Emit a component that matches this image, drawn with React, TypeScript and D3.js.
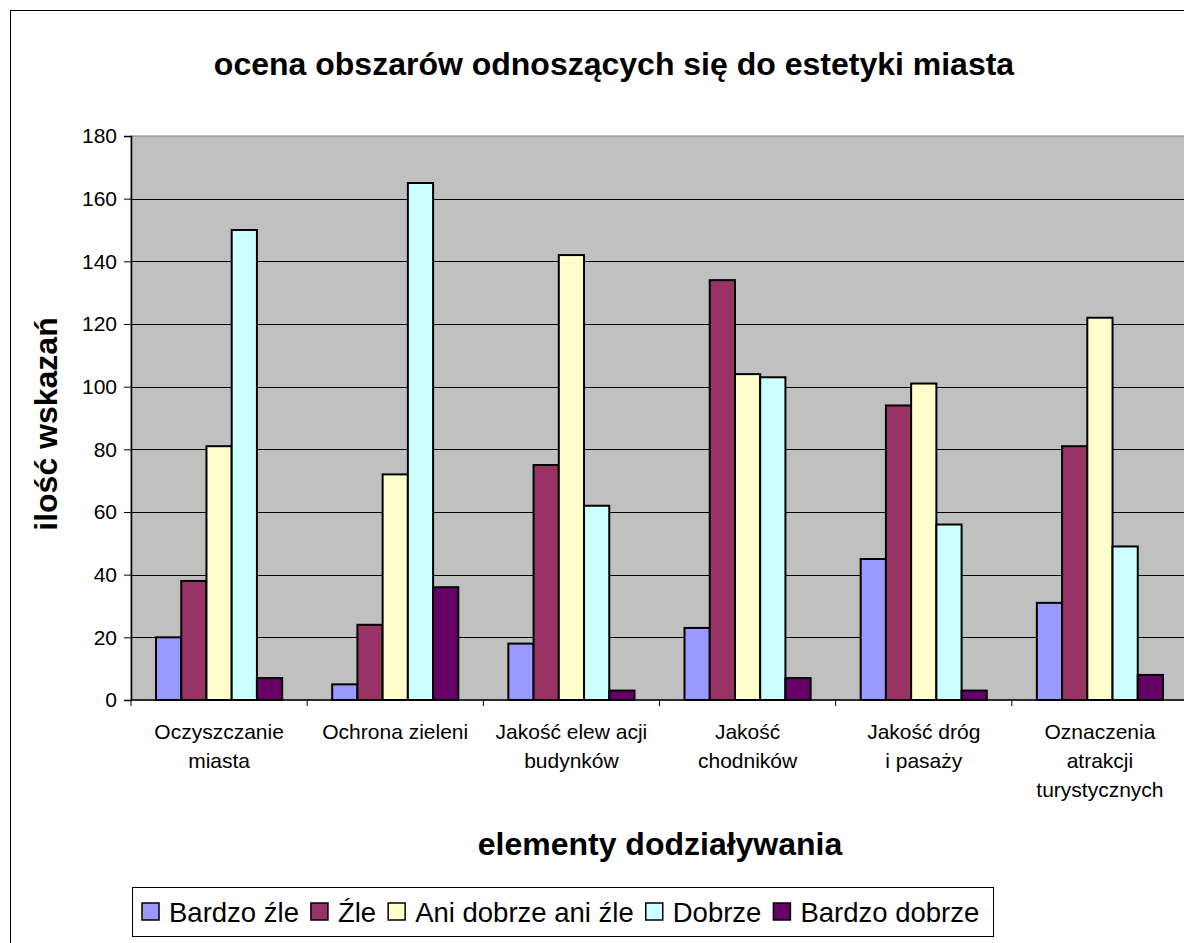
import React, { useEffect, useRef } from 'react';
import * as d3 from 'd3';

const categories = [
  ['Oczyszczanie', 'miasta'],
  ['Ochrona zieleni'],
  ['Jakość elew acji', 'budynków'],
  ['Jakość', 'chodników'],
  ['Jakość dróg', 'i pasaży'],
  ['Oznaczenia', 'atrakcji', 'turystycznych'],
];
const seriesNames = ['Bardzo źle', 'Źle', 'Ani dobrze ani źle', 'Dobrze', 'Bardzo dobrze'];
const seriesColors = ['#9999FF', '#993366', '#FFFFCC', '#CCFFFF', '#660066'];

const bardzoZle = [20, 5, 18, 23, 45, 31];
const zle = [38, 24, 75, 134, 94, 81];
const aniAni = [81, 72, 142, 104, 101, 122];
const dobrze = [150, 165, 62, 103, 56, 49];
const bardzoDobrze = [7, 36, 3, 7, 3, 8];
const seriesValues = [bardzoZle, zle, aniAni, dobrze, bardzoDobrze];

const yTicks = [0, 20, 40, 60, 80, 100, 120, 140, 160, 180];

const W = 1184;
const H = 943;
const FONT = '"Liberation Sans", Arial, sans-serif';

const App: React.FC = () => {
  const svgRef = useRef<SVGSVGElement | null>(null);

  useEffect(() => {
    drawChart();
  }, []);

  const drawChart = () => {
    const svg = d3.select(svgRef.current);
    svg.selectAll('*').remove();

    const plot = { left: 131, right: 1188, top: 136, bottom: 700 };

    // outer chart frame (runs past the window on right / bottom)
    svg.append('rect')
      .attr('x', 10.5).attr('y', 10.5).attr('width', 1300).attr('height', 1100)
      .attr('fill', '#fff').attr('stroke', '#000').attr('stroke-width', 1);

    const x = d3.scaleBand<number>()
      .domain(d3.range(categories.length))
      .range([plot.left, plot.right])
      .paddingInner(0.284)
      .paddingOuter(0.142);
    const xs = d3.scaleBand<number>().domain(d3.range(seriesNames.length)).range([0, x.bandwidth()]);
    const y = d3.scaleLinear().domain([0, 180]).range([plot.bottom, plot.top]);

    svg.append('rect')
      .attr('x', plot.left).attr('y', plot.top)
      .attr('width', plot.right - plot.left).attr('height', plot.bottom - plot.top)
      .attr('fill', '#C0C0C0').attr('stroke', '#808080').attr('stroke-width', 1);

    // gridlines
    svg.append('g').selectAll('line').data(yTicks.slice(1, -1)).enter().append('line')
      .attr('x1', plot.left).attr('x2', plot.right)
      .attr('y1', (d) => Math.round(y(d)) + 0.5).attr('y2', (d) => Math.round(y(d)) + 0.5)
      .attr('stroke', '#000').attr('stroke-width', 1);

    // bars
    seriesValues.forEach((vals, si) => {
      svg.append('g').selectAll('rect').data(vals).enter().append('rect')
        .attr('x', (d, i) => x(i)! + xs(si)!)
        .attr('y', (d) => y(d))
        .attr('width', xs.bandwidth())
        .attr('height', (d) => y(0) - y(d))
        .attr('fill', seriesColors[si])
        .attr('stroke', '#000').attr('stroke-width', 2);
    });

    // y axis
    const yAxis = svg.append('g')
      .attr('transform', `translate(${plot.left},0)`)
      .call(d3.axisLeft(y).tickValues(yTicks).tickSize(7).tickPadding(7));
    yAxis.select('.domain').attr('stroke', '#000').attr('stroke-width', 1.5);
    yAxis.selectAll('.tick line').attr('stroke', '#000');
    yAxis.selectAll('text').attr('font-family', FONT).attr('font-size', 21).attr('fill', '#000');

    // x axis
    svg.append('line')
      .attr('x1', plot.left).attr('x2', plot.right)
      .attr('y1', plot.bottom).attr('y2', plot.bottom)
      .attr('stroke', '#000').attr('stroke-width', 1.5);
    const step = x.step();
    svg.append('g').selectAll('line').data(d3.range(categories.length + 1)).enter().append('line')
      .attr('x1', (i) => plot.left + i * step).attr('x2', (i) => plot.left + i * step)
      .attr('y1', plot.bottom).attr('y2', plot.bottom + 6)
      .attr('stroke', '#000').attr('stroke-width', 1);

    const catLabels = svg.append('g').selectAll('text').data(categories).enter().append('text')
      .attr('x', (d, i) => x(i)! + x.bandwidth() / 2)
      .attr('y', 739)
      .attr('text-anchor', 'middle')
      .attr('font-family', FONT).attr('font-size', 21).attr('fill', '#000');
    catLabels.selectAll('tspan').data((d) => d).enter().append('tspan')
      .attr('x', function () { return (this as any).parentNode.getAttribute('x'); })
      .attr('dy', (d, i) => (i === 0 ? 0 : 29))
      .text((d) => d);

    // titles
    svg.append('text')
      .attr('x', 614).attr('y', 75).attr('text-anchor', 'middle')
      .attr('font-family', FONT).attr('font-size', 32).attr('font-weight', 'bold')
      .text('ocena obszarów odnoszących się do estetyki miasta');
    svg.append('text')
      .attr('x', 660).attr('y', 855).attr('text-anchor', 'middle')
      .attr('font-family', FONT).attr('font-size', 32).attr('font-weight', 'bold')
      .text('elementy dodziaływania');
    svg.append('text')
      .attr('transform', 'translate(57,424) rotate(-90)').attr('text-anchor', 'middle')
      .attr('font-family', FONT).attr('font-size', 32).attr('font-weight', 'bold')
      .text('ilość wskazań');

    // legend
    const legend = svg.append('g');
    legend.append('rect')
      .attr('x', 132.5).attr('y', 887.5).attr('width', 861).attr('height', 49)
      .attr('fill', '#fff').attr('stroke', '#000').attr('stroke-width', 1);
    let lx = 142;
    seriesNames.forEach((name, i) => {
      legend.append('rect')
        .attr('x', lx).attr('y', 903).attr('width', 17).attr('height', 17)
        .attr('fill', seriesColors[i]).attr('stroke', '#000').attr('stroke-width', 1.5);
      const t = legend.append('text')
        .attr('x', lx + 27).attr('y', 922)
        .attr('font-family', FONT).attr('font-size', 27.5).attr('fill', '#000')
        .text(name);
      const w = (t.node() as SVGTextElement).getComputedTextLength();
      lx += 27 + w + 12;
    });
  };

  return (
    <svg ref={svgRef} width={W} height={H}
      style={{ position: 'absolute', left: 0, top: 0, display: 'block', background: '#fff' }} />
  );
};

export default App;
